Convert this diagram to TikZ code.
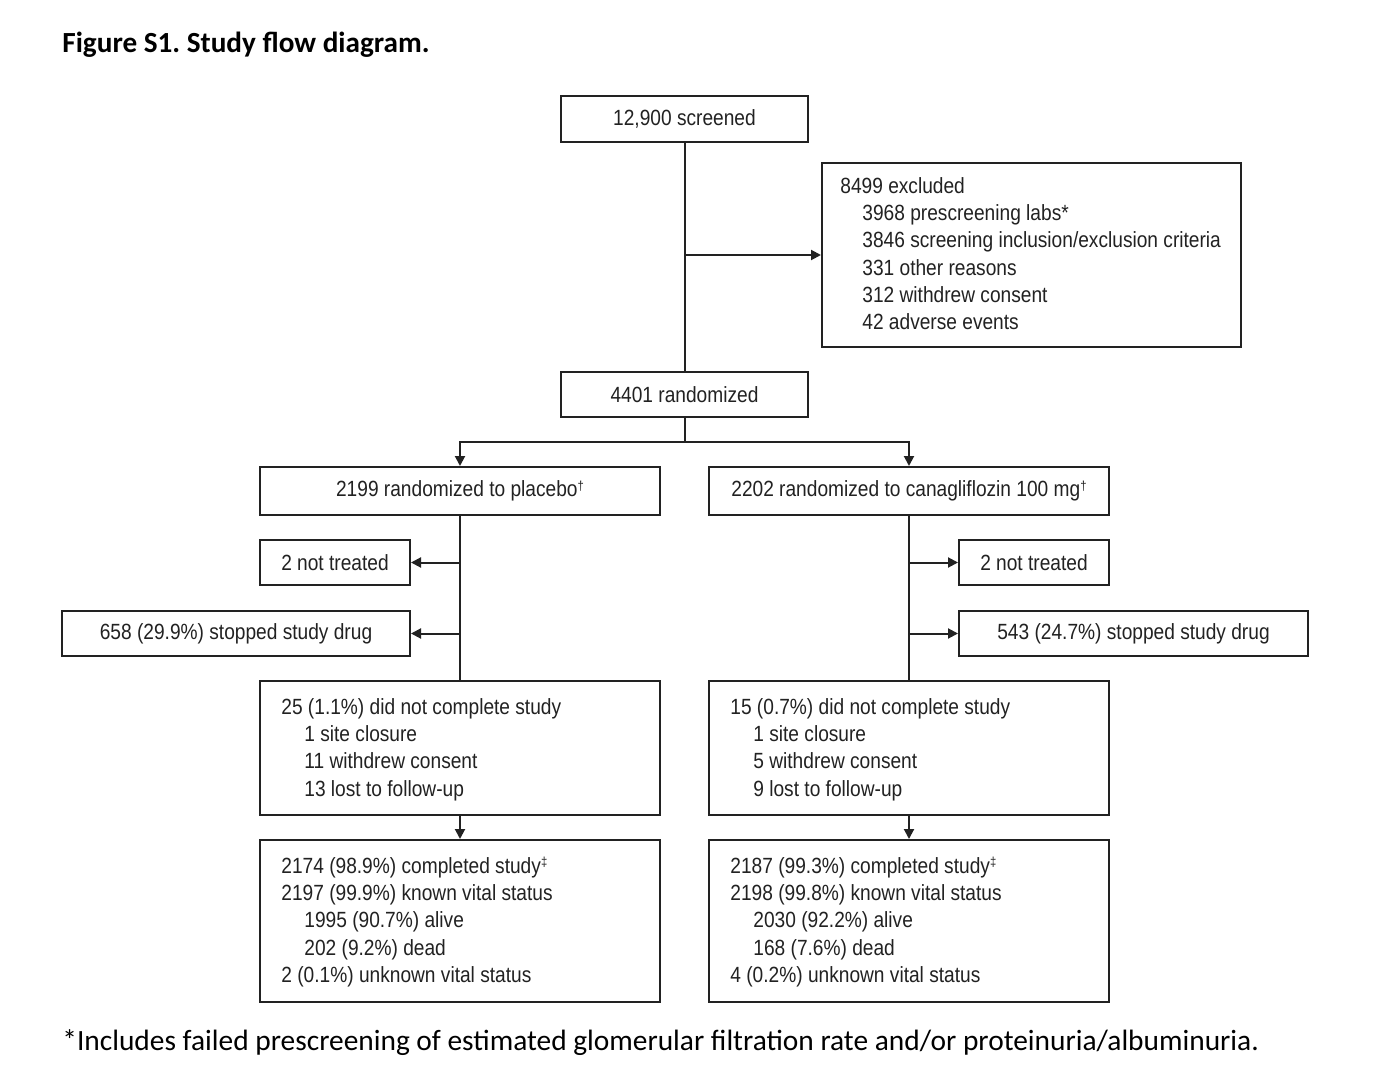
\documentclass[tikz,border=0pt]{standalone}
\usepackage{fontspec}
\usetikzlibrary{arrows.meta,fit}
\newfontfamily\narrowfont[FakeStretch=0.87]{Liberation Sans}
\newfontfamily\calibfont{Carlito}
\definecolor{ink}{HTML}{222222}
\newcommand{\supmark}[1]{\raisebox{3.2pt}{\fontsize{6.5}{6.5}\selectfont #1}}
\frenchspacing
\begin{document}
\begin{tikzpicture}[x=0.5pt,y=-0.5pt,
  box/.style={draw=ink, line width=1pt, inner sep=0pt},
  lbl/.style={text=ink, inner sep=0pt, font=\narrowfont\fontsize{11}{13.7}\selectfont},
  ml/.style={lbl, anchor=base west},
  conn/.style={draw=ink, line width=1pt},
  arr/.style={conn, -{Triangle[length=5pt,width=5pt]}}]
\fill[white] (0,0) rectangle (1388,1081);
\useasboundingbox (0,0) rectangle (1388,1081);

\node[anchor=base west, inner sep=0pt, font=\calibfont\bfseries\fontsize{14.6}{17}\selectfont] (title) at (62,53) {Figure S1. Study flow diagram.};

% boxes
\node[box, fit={(561,96) (808,142)}] (scr) {};
\node[box, fit={(822,163) (1241,347)}] (exc) {};
\node[box, fit={(561,372) (808,417)}] (rnd) {};
\node[box, fit={(260,467) (660,515)}] (plc) {};
\node[box, fit={(709,467) (1109,515)}] (can) {};
\node[box, fit={(260,540) (410,585)}] (ntL) {};
\node[box, fit={(62,611) (410,656)}] (sdL) {};
\node[box, fit={(959,540) (1109,585)}] (ntR) {};
\node[box, fit={(959,611) (1308,656)}] (sdR) {};
\node[box, fit={(260,681) (660,815)}] (dnL) {};
\node[box, fit={(709,681) (1109,815)}] (dnR) {};
\node[box, fit={(260,840) (660,1002)}] (cpL) {};
\node[box, fit={(709,840) (1109,1002)}] (cpR) {};

% single-line texts
\node[lbl] (tscr) at (scr.center) {12,900 screened};
\node[lbl] (trnd) at (rnd.center) {4401 randomized};
\node[lbl] (tplc) at (plc.center) {2199 randomized to placebo\supmark{†}};
\node[lbl] (tcan) at (can.center) {2202 randomized to canagliflozin 100 mg\supmark{†}};
\node[lbl] (tntL) at (ntL.center) {2 not treated};
\node[lbl] (tsdL) at (sdL.center) {658 (29.9\%) stopped study drug};
\node[lbl] (tntR) at (ntR.center) {2 not treated};
\node[lbl] (tsdR) at (sdR.center) {543 (24.7\%) stopped study drug};

% multi-line texts
\node[ml] (texc) at (840,193) {\begin{tabular}[t]{@{}l@{}}8499 excluded\\
\hspace*{11pt}3968 prescreening labs*\\
\hspace*{11pt}3846 screening inclusion/exclusion criteria\\
\hspace*{11pt}331 other reasons\\
\hspace*{11pt}312 withdrew consent\\
\hspace*{11pt}42 adverse events\end{tabular}};

\node[ml] (tdnL) at (281,714) {\begin{tabular}[t]{@{}l@{}}25 (1.1\%) did not complete study\\
\hspace*{11.5pt}1 site closure\\
\hspace*{11.5pt}11 withdrew consent\\
\hspace*{11.5pt}13 lost to follow-up\end{tabular}};

\node[ml] (tdnR) at (730,714) {\begin{tabular}[t]{@{}l@{}}15 (0.7\%) did not complete study\\
\hspace*{11.5pt}1 site closure\\
\hspace*{11.5pt}5 withdrew consent\\
\hspace*{11.5pt}9 lost to follow-up\end{tabular}};

\node[ml] (tcpL) at (281,873) {\begin{tabular}[t]{@{}l@{}}2174 (98.9\%) completed study\supmark{‡}\\
2197 (99.9\%) known vital status\\
\hspace*{11.5pt}1995 (90.7\%) alive\\
\hspace*{11.5pt}202 (9.2\%) dead\\
2 (0.1\%) unknown vital status\end{tabular}};

\node[ml] (tcpR) at (730,873) {\begin{tabular}[t]{@{}l@{}}2187 (99.3\%) completed study\supmark{‡}\\
2198 (99.8\%) known vital status\\
\hspace*{11.5pt}2030 (92.2\%) alive\\
\hspace*{11.5pt}168 (7.6\%) dead\\
4 (0.2\%) unknown vital status\end{tabular}};

% connectors
\draw[conn] (scr.south) -- (rnd.north);
\draw[arr] (scr.south |- exc.west) -- (exc.west);
\path (rnd.south) ++(0,24) coordinate (split);
\draw[conn] (rnd.south) -- (split);
\draw[arr] (split) -| (plc.north);
\draw[arr] (split) -| (can.north);
\draw[conn] (plc.south) -- (dnL.north);
\draw[conn] (can.south) -- (dnR.north);
\draw[arr] (plc.south |- ntL.east) -- (ntL.east);
\draw[arr] (plc.south |- sdL.east) -- (sdL.east);
\draw[arr] (can.south |- ntR.west) -- (ntR.west);
\draw[arr] (can.south |- sdR.west) -- (sdR.west);
\draw[arr] (dnL.south) -- (cpL.north);
\draw[arr] (dnR.south) -- (cpR.north);

\node[anchor=base west, inner sep=0pt, font=\calibfont\fontsize{14.7}{17}\selectfont] (foot) at (62,1050) {*Includes failed prescreening of estimated glomerular filtration rate and/or proteinuria/albuminuria.};
\end{tikzpicture}
\end{document}
